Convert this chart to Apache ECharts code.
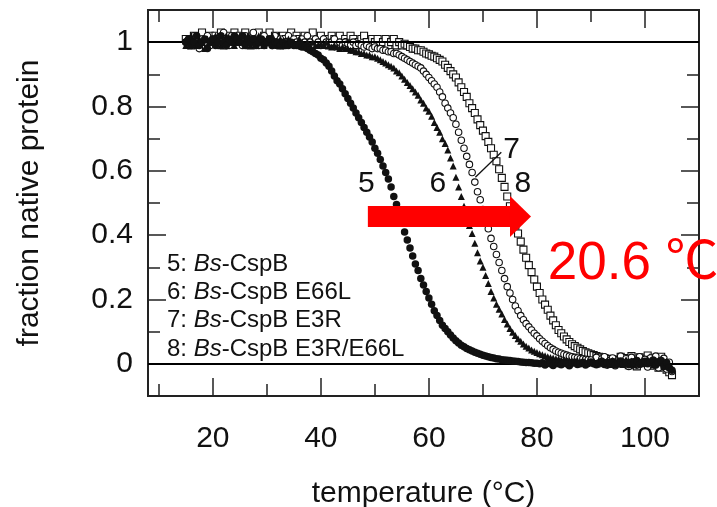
<!DOCTYPE html>
<html>
<head>
<meta charset="utf-8">
<script src="https://cdn.jsdelivr.net/npm/echarts@6/dist/echarts.min.js"></script>
<style>
  html, body { margin: 0; padding: 0; background: #fff; }
  #chart { width: 717px; height: 507px; }
</style>
</head>
<body>
<div id="chart"></div>
<script>
// Thermal unfolding transitions of Bs-CspB and its surface mutants.

// Sampling temperatures (°C), shared by all four transitions
const temperature = [
  15, 15.5, 16, 16.5, 17, 17.5, 18, 18.5, 19, 19.5,
  20, 20.5, 21, 21.5, 22, 22.5, 23, 23.5, 24, 24.5,
  25, 25.5, 26, 26.5, 27, 27.5, 28, 28.5, 29, 29.5,
  30, 30.5, 31, 31.5, 32, 32.5, 33, 33.5, 34, 34.5,
  35, 35.5, 36, 36.5, 37, 37.5, 38, 38.5, 39, 39.5,
  40, 40.5, 41, 41.5, 42, 42.5, 43, 43.5, 44, 44.5,
  45, 45.5, 46, 46.5, 47, 47.5, 48, 48.5, 49, 49.5,
  50, 50.5, 51, 51.5, 52, 52.5, 53, 53.5, 54, 54.5,
  55, 55.5, 56, 56.5, 57, 57.5, 58, 58.5, 59, 59.5,
  60, 60.5, 61, 61.5, 62, 62.5, 63, 63.5, 64, 64.5,
  65, 65.5, 66, 66.5, 67, 67.5, 68, 68.5, 69, 69.5,
  70, 70.5, 71, 71.5, 72, 72.5, 73, 73.5, 74, 74.5,
  75, 75.5, 76, 76.5, 77, 77.5, 78, 78.5, 79, 79.5,
  80, 80.5, 81, 81.5, 82, 82.5, 83, 83.5, 84, 84.5,
  85, 85.5, 86, 86.5, 87, 87.5, 88, 88.5, 89, 89.5,
  90, 90.5, 91, 91.5, 92, 92.5, 93, 93.5, 94, 94.5,
  95, 95.5, 96, 96.5, 97, 97.5, 98, 98.5, 99, 99.5,
  100, 100.5, 101, 101.5, 102, 102.5, 103, 103.5, 104, 104.5,
  105
];

// Fraction of native protein, curve 5: Bs-CspB
const native5 = [
  1.00, 1.01, 0.99, 1.00, 1.02, 0.99, 1.00, 1.01, 0.98, 1.00,
  1.01, 0.99, 1.00, 1.02, 1.00, 0.99, 1.01, 1.00, 1.02, 1.01,
  1.00, 1.02, 0.99, 1.01, 1.00, 1.01, 0.99, 1.00, 1.01, 0.99,
  1.00, 1.01, 0.99, 1.00, 1.00, 0.99, 1.00, 0.99, 0.99, 1.00,
  0.99, 0.99, 0.99, 0.985, 0.985, 0.98, 0.975, 0.97, 0.965, 0.96,
  0.95, 0.945, 0.935, 0.925, 0.91, 0.895, 0.88, 0.87, 0.855, 0.84,
  0.825, 0.81, 0.795, 0.78, 0.765, 0.75, 0.735, 0.72, 0.705, 0.69,
  0.67, 0.655, 0.635, 0.615, 0.595, 0.575, 0.55, 0.52, 0.495, 0.465,
  0.44, 0.41, 0.385, 0.36, 0.335, 0.31, 0.29, 0.265, 0.245, 0.225,
  0.205, 0.185, 0.165, 0.15, 0.135, 0.12, 0.11, 0.10, 0.09, 0.08,
  0.072, 0.065, 0.058, 0.053, 0.048, 0.044, 0.04, 0.036, 0.033, 0.03,
  0.027, 0.024, 0.022, 0.02, 0.018, 0.016, 0.015, 0.013, 0.012, 0.011,
  0.01, 0.009, 0.008, 0.007, 0.006, 0.005, 0.004, 0.004, 0.003, 0.002,
  0.002, 0.0, 0.003, -0.004, 0.002, 0.0, -0.005, 0.003, 0.0, -0.003,
  0.004, 0.0, -0.006, 0.002, 0.005, -0.002, 0.0, 0.004, -0.004, 0.001,
  0.006, 0.0, -0.003, 0.003, 0.008, -0.002, 0.004, 0.0, 0.007, -0.004,
  0.003, 0.009, 0.0, 0.005, -0.003, 0.006, 0.002, 0.01, -0.002, 0.004,
  0.008, 0.0, 0.006, 0.012, -0.004, 0.005, 0.01, -0.008, 0.004, -0.012,
  -0.02
];

// Curve 6: Bs-CspB E66L
const native6 = [
  0.99, 1.00, 1.02, 1.00, 0.99, 1.01, 1.00, 0.98, 1.01, 1.00,
  1.00, 1.02, 1.01, 0.99, 1.00, 1.02, 1.00, 1.01, 0.99, 1.00,
  1.02, 1.00, 1.01, 1.02, 0.99, 1.00, 1.01, 1.02, 1.00, 0.99,
  1.01, 1.00, 1.02, 1.00, 0.99, 1.01, 1.00, 0.99, 1.01, 1.00,
  1.00, 0.99, 1.01, 1.00, 0.99, 1.00, 0.99, 1.00, 0.99, 0.99,
  0.995, 0.99, 1.00, 0.99, 0.985, 0.99, 0.985, 0.98, 0.985, 0.98,
  0.98, 0.975, 0.975, 0.97, 0.97, 0.965, 0.965, 0.96, 0.96, 0.955,
  0.955, 0.95, 0.945, 0.94, 0.935, 0.93, 0.925, 0.92, 0.91, 0.905,
  0.895, 0.885, 0.875, 0.865, 0.855, 0.845, 0.835, 0.82, 0.81, 0.795,
  0.785, 0.77, 0.75, 0.735, 0.72, 0.70, 0.685, 0.665, 0.64, 0.615,
  0.58, 0.55, 0.52, 0.49, 0.46, 0.43, 0.405, 0.375, 0.345, 0.32,
  0.30, 0.275, 0.25, 0.225, 0.205, 0.185, 0.17, 0.155, 0.138, 0.124,
  0.11, 0.098, 0.088, 0.078, 0.07, 0.062, 0.055, 0.049, 0.043, 0.039,
  0.035, 0.031, 0.028, 0.025, 0.022, 0.02, 0.018, 0.016, 0.015, 0.013,
  0.012, 0.011, 0.01, 0.009, 0.008, 0.01, 0.006, 0.009, 0.004, 0.008,
  0.005, 0.01, 0.002, 0.007, 0.012, 0.003, 0.008, -0.002, 0.01, 0.004,
  0.011, 0.0, 0.007, 0.013, 0.002, 0.009, -0.003, 0.012, 0.005, 0.01,
  0.002, 0.014, 0.006, -0.004, 0.011, 0.003, 0.015, -0.006, 0.008, -0.01,
  -0.015
];

// Curve 7: Bs-CspB E3R
const native7 = [
  1.00, 0.99, 1.01, 1.02, 1.00, 0.98, 1.01, 1.00, 1.02, 0.99,
  1.01, 1.00, 0.99, 1.01, 1.03, 1.00, 0.99, 1.02, 1.01, 1.00,
  1.01, 0.99, 1.02, 1.00, 1.01, 1.03, 1.00, 0.99, 1.01, 1.02,
  1.00, 1.01, 0.99, 1.02, 1.00, 1.01, 0.99, 1.00, 1.02, 1.00,
  1.01, 1.00, 0.99, 1.01, 1.00, 1.02, 1.00, 0.99, 1.01, 1.00,
  0.99, 1.01, 1.00, 0.99, 1.00, 1.01, 0.99, 1.00, 0.99, 1.00,
  0.995, 0.99, 1.00, 0.99, 0.995, 0.99, 0.985, 0.99, 0.985, 0.98,
  0.985, 0.98, 0.98, 0.975, 0.975, 0.97, 0.97, 0.965, 0.965, 0.96,
  0.955, 0.95, 0.945, 0.94, 0.935, 0.93, 0.925, 0.92, 0.91, 0.90,
  0.89, 0.88, 0.87, 0.86, 0.845, 0.83, 0.81, 0.795, 0.78, 0.765,
  0.745, 0.72, 0.695, 0.67, 0.645, 0.62, 0.595, 0.565, 0.535, 0.51,
  0.48, 0.45, 0.42, 0.39, 0.365, 0.34, 0.315, 0.29, 0.265, 0.24,
  0.22, 0.20, 0.18, 0.165, 0.15, 0.137, 0.125, 0.115, 0.105, 0.095,
  0.087, 0.078, 0.07, 0.063, 0.056, 0.05, 0.045, 0.04, 0.036, 0.033,
  0.03, 0.027, 0.024, 0.022, 0.02, 0.018, 0.016, 0.015, 0.014, 0.013,
  0.012, 0.004, 0.02, 0.0, 0.015, 0.022, -0.004, 0.01, 0.018, -0.006,
  0.009, 0.024, 0.0, 0.016, -0.008, 0.02, 0.006, -0.004, 0.022, 0.002,
  0.014, -0.01, 0.018, 0.004, 0.024, -0.012, 0.009, 0.017, -0.016, 0.005,
  -0.024
];

// Curve 8: Bs-CspB E3R/E66L
const native8 = [
  1.01, 1.00, 0.99, 1.02, 1.01, 1.00, 1.03, 0.99, 1.01, 1.02,
  1.00, 1.02, 1.01, 1.03, 0.99, 1.01, 1.02, 1.00, 1.03, 1.01,
  1.02, 1.00, 1.03, 1.01, 0.99, 1.02, 1.01, 1.03, 1.00, 1.02,
  1.01, 1.03, 1.00, 1.02, 1.01, 0.99, 1.02, 1.01, 1.00, 1.03,
  1.00, 1.02, 1.01, 0.99, 1.02, 1.00, 1.01, 1.03, 1.00, 1.01,
  1.02, 1.00, 1.01, 0.99, 1.02, 1.01, 1.00, 1.02, 0.99, 1.01,
  1.00, 1.02, 1.01, 0.99, 1.00, 1.01, 1.02, 1.00, 0.99, 1.01,
  1.00, 1.01, 0.99, 1.00, 1.01, 0.99, 1.00, 1.01, 0.99, 1.00,
  0.99, 0.995, 0.99, 0.985, 0.98, 0.98, 0.975, 0.975, 0.97, 0.965,
  0.962, 0.958, 0.955, 0.95, 0.945, 0.94, 0.93, 0.92, 0.91, 0.90,
  0.89, 0.875, 0.86, 0.845, 0.83, 0.81, 0.795, 0.78, 0.76, 0.742,
  0.725, 0.708, 0.69, 0.67, 0.65, 0.63, 0.605, 0.578, 0.55, 0.52,
  0.49, 0.46, 0.43, 0.405, 0.38, 0.355, 0.33, 0.307, 0.285, 0.262,
  0.24, 0.22, 0.20, 0.184, 0.168, 0.15, 0.135, 0.12, 0.105, 0.095,
  0.085, 0.076, 0.068, 0.061, 0.055, 0.05, 0.045, 0.04, 0.036, 0.033,
  0.03, 0.027, 0.024, 0.022, 0.02, 0.018, 0.016, 0.015, 0.014, 0.012,
  0.011, 0.022, 0.0, 0.018, -0.004, 0.024, 0.006, -0.008, 0.02, 0.002,
  0.016, 0.026, -0.006, 0.019, 0.004, -0.012, 0.022, 0.0, -0.018, -0.026,
  -0.035
];

const seriesNames = ['5: Bs-CspB', '6: Bs-CspB E66L', '7: Bs-CspB E3R', '8: Bs-CspB E3R/E66L'];

// Axis ticks and labels
const tempLabels = [20, 40, 60, 80, 100];
const tempMajorTicks = [20, 40, 60, 80, 100];
const tempMinorTicks = [10, 30, 50, 70, 90, 110];
const fracLabels = [0, 0.2, 0.4, 0.6, 0.8, 1];
const fracMajorTicks = [0.2, 0.4, 0.6, 0.8];
const fracMinorTicks = [0.1, 0.3, 0.5, 0.7, 0.9];
const baselines = [0, 1];

// Curve numbers placed next to each transition (temperature, fraction)
const curveTags = ['5', '6', '7', '8'];
const curveTagPos = [[48.4, 0.559], [61.65, 0.559], [75.3, 0.667], [77.4, 0.559]];
// Leader from the "7" tag to its curve
const leader7 = [[73.4, 0.658], [68.6, 0.580]];

// Shift of the midpoint between Bs-CspB and the double mutant
const shiftText = '20.6 ℃';
const shiftArrowFrom = [48.7, 0.458];
const shiftArrowTo = [78.9, 0.458];
const shiftTextPos = [82.0, 0.309];

const FONT = "'Liberation Sans', Arial, Helvetica, sans-serif";
const INK = '#111';
const FRAME = '#222';

const toPairs = vals => temperature.map((t, i) => [t, vals[i]]);

// Filled markers sit above the open ones so the shared native baseline reads dark
const markerStyles = [
  { symbol: 'circle', symbolSize: 7.5, z: 6, itemStyle: { color: INK, opacity: 1 } },
  { symbol: 'triangle', symbolSize: 7, z: 5, itemStyle: { color: INK, opacity: 1 } },
  { symbol: 'circle', symbolSize: 6.5, z: 4, itemStyle: { color: '#fff', borderColor: INK, borderWidth: 1.1, opacity: 1 } },
  { symbol: 'rect', symbolSize: 7, z: 3, itemStyle: { color: '#fff', borderColor: INK, borderWidth: 1.1, opacity: 1 } }
];

const curveValues = [native5, native6, native7, native8];

function xAxisDef(position, ticks, tickLen, withLabels) {
  const ax = {
    type: 'value', min: 8, max: 110, position: position,
    axisLine: { show: true, onZero: false, lineStyle: { color: FRAME, width: 2 } },
    axisTick: { show: true, inside: true, length: tickLen, customValues: ticks,
                lineStyle: { color: FRAME, width: 1.5 } },
    axisLabel: { show: false },
    splitLine: { show: false }
  };
  if (withLabels) {
    ax.axisLabel = { show: true, customValues: tempLabels, fontSize: 30, margin: 28,
                     color: INK, fontFamily: FONT };
    ax.name = 'temperature (°C)';
    ax.nameLocation = 'middle';
    ax.nameGap = 83;
    ax.nameTextStyle = { fontSize: 30, color: INK, fontFamily: FONT };
  }
  return ax;
}

function yAxisDef(position, ticks, tickLen, withLabels) {
  const ax = {
    type: 'value', min: -0.1, max: 1.1, position: position,
    axisLine: { show: true, onZero: false, lineStyle: { color: FRAME, width: 2 } },
    axisTick: { show: true, inside: true, length: tickLen, customValues: ticks,
                lineStyle: { color: FRAME, width: 1.5 } },
    axisLabel: { show: false },
    splitLine: { show: false }
  };
  if (withLabels) {
    ax.axisLabel = { show: true, customValues: fracLabels, fontSize: 30, margin: 15,
                     color: INK, fontFamily: FONT, formatter: v => String(v) };
    ax.name = 'fraction native protein';
    ax.nameLocation = 'middle';
    ax.nameGap = 103;
    ax.nameTextStyle = { fontSize: 30, color: INK, fontFamily: FONT };
  }
  return ax;
}

const series = curveValues.map((vals, k) => Object.assign({
  name: seriesNames[k],
  type: 'scatter',
  data: toPairs(vals),
  silent: true,
  emphasis: { disabled: true }
}, markerStyles[k]));

// Reference levels for the native and unfolded baselines
series[0].markLine = {
  silent: true,
  symbol: 'none',
  label: { show: false },
  lineStyle: { color: '#000', width: 2, type: 'solid', opacity: 1 },
  data: baselines.map(v => ({ yAxis: v }))
};

series.push({
  type: 'line',
  data: leader7,
  symbol: 'none',
  silent: true,
  lineStyle: { color: INK, width: 1.3, opacity: 1 },
  z: 8
});

series.push({
  type: 'scatter',
  data: curveTagPos,
  symbolSize: 0,
  silent: true,
  z: 8,
  itemStyle: { opacity: 1 },
  label: {
    show: true, position: 'inside', formatter: p => curveTags[p.dataIndex],
    fontSize: 30, color: INK, fontFamily: FONT, opacity: 1
  }
});

series.push({
  type: 'custom',
  silent: true,
  z: 10,
  data: [[shiftArrowFrom[0], shiftArrowFrom[1], shiftArrowTo[0], shiftArrowTo[1]]],
  encode: { x: [0, 2], y: [1, 3] },
  renderItem: function (params, api) {
    const a = api.coord([api.value(0), api.value(1)]);
    const b = api.coord([api.value(2), api.value(3)]);
    const bodyH = 21, headL = 21, headH = 41;
    const y = a[1];
    const hx = b[0] - headL;
    return {
      type: 'group',
      children: [
        { type: 'rect', shape: { x: a[0], y: y - bodyH / 2, width: hx - a[0], height: bodyH },
          style: { fill: '#ff0000' } },
        { type: 'polygon', shape: { points: [[hx, y - headH / 2], [b[0], y], [hx, y + headH / 2]] },
          style: { fill: '#ff0000' } }
      ]
    };
  }
});

series.push({
  type: 'scatter',
  data: [shiftTextPos],
  symbolSize: 0,
  silent: true,
  z: 10,
  itemStyle: { opacity: 1 },
  label: {
    show: true, position: 'right', distance: 0, formatter: () => shiftText,
    fontSize: 53, color: '#ff0000', opacity: 1,
    fontFamily: "'Liberation Sans', Arial, 'Noto Sans CJK JP', sans-serif"
  }
});

const chart = echarts.init(document.getElementById('chart'), null, { renderer: 'canvas' });
chart.setOption({
  animation: false,
  backgroundColor: '#fff',
  grid: { left: 148, right: 18, top: 10, bottom: 111, containLabel: false, outerBoundsMode: 'none' },
  xAxis: [
    xAxisDef('bottom', tempMajorTicks, 18, true),
    xAxisDef('bottom', tempMinorTicks, 12, false),
    xAxisDef('top', tempMajorTicks, 18, false),
    xAxisDef('top', tempMinorTicks, 12, false)
  ],
  yAxis: [
    yAxisDef('left', fracMajorTicks, 18, true),
    yAxisDef('left', fracMinorTicks, 12, false),
    yAxisDef('right', fracMajorTicks, 18, false),
    yAxisDef('right', fracMinorTicks, 12, false)
  ],
  legend: {
    data: seriesNames,
    orient: 'vertical',
    left: 157,
    top: 247,
    icon: 'none',
    itemWidth: 0,
    itemHeight: 0,
    itemGap: 4.3,
    selectedMode: false,
    formatter: name => name.replace('Bs', '{i|Bs}'),
    textStyle: {
      fontSize: 24, lineHeight: 24, color: INK, fontFamily: FONT,
      rich: { i: { fontSize: 24, lineHeight: 24, fontStyle: 'italic', color: INK, fontFamily: FONT } }
    }
  },
  series: series
});
</script>
</body>
</html>
